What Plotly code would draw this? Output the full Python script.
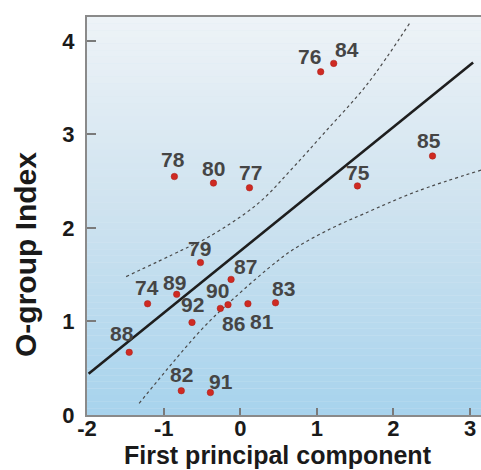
import plotly.graph_objects as go

# ---- data ----
labels = ["76", "84", "78", "80", "77", "75", "85", "79", "87", "89", "74",
          "90", "86", "81", "92", "83", "88", "82", "91"]
pc1 = [1.05, 1.22, -0.86, -0.35, 0.12, 1.53, 2.51, -0.52, -0.12, -0.83, -1.21,
       -0.26, -0.16, 0.10, -0.63, 0.46, -1.45, -0.77, -0.39]
ogroup = [3.67, 3.76, 2.55, 2.48, 2.43, 2.45, 2.77, 1.63, 1.45, 1.29, 1.19,
          1.14, 1.18, 1.19, 0.99, 1.20, 0.67, 0.26, 0.24]

fit_x = [-1.98, 3.04]
fit_y = [0.44, 3.77]

upper_x = [-1.49, -0.77, -0.42, 0.23, 0.66, 1.09, 1.66, 2.22]
upper_y = [1.48, 1.76, 1.90, 2.26, 2.62, 3.01, 3.54, 4.20]

lower_x = [-1.32, -0.51, -0.08, 0.49, 0.75, 1.20, 1.61, 2.30, 3.15]
lower_y = [0.125, 0.91, 1.25, 1.65, 1.80, 2.00, 2.15, 2.39, 2.62]

x_ticks = [-2, -1, 0, 1, 2, 3]
y_ticks = [0, 1, 2, 3, 4]

# ---- label offsets (pixels) ----
label_offsets = {
    "76": (-11, 15), "84": (13, 14), "78": (-1, 17), "80": (0, 15),
    "77": (1, 15), "75": (1, 13), "85": (-4, 15), "79": (-1, 14),
    "87": (14, 13), "89": (-2, 12), "74": (-1, 16), "90": (-3, 18),
    "86": (5, -19), "81": (14, -18), "92": (0, 18), "83": (8, 14),
    "88": (-7, 19), "82": (0, 16), "91": (11, 11),
}

FONT = "Liberation Sans, Arial, sans-serif"

fig = go.Figure()

band_style = dict(color="#4a4a4a", width=1.2, dash="dot", shape="spline")
fig.add_trace(go.Scatter(x=upper_x, y=upper_y, mode="lines", line=band_style,
                         hoverinfo="skip", showlegend=False))
fig.add_trace(go.Scatter(x=lower_x, y=lower_y, mode="lines", line=band_style,
                         hoverinfo="skip", showlegend=False))
fig.add_trace(go.Scatter(x=fit_x, y=fit_y, mode="lines",
                         line=dict(color="#1e1e1e", width=2.6),
                         hoverinfo="skip", showlegend=False))
fig.add_trace(go.Scatter(x=pc1, y=ogroup, mode="markers",
                         marker=dict(color="#cf2a22", size=6.5,
                                     line=dict(color="#a61c16", width=0.5)),
                         text=labels, showlegend=False))

for lab, xv, yv in zip(labels, pc1, ogroup):
    dx, dy = label_offsets[lab]
    fig.add_annotation(x=xv, y=yv, text=lab, showarrow=False,
                       xshift=dx, yshift=dy,
                       font=dict(family=FONT, size=21, color="#454545",
                                 weight="bold"))

# ---- gradient background ----
def lerp(c1, c2, t):
    return tuple(round(a + (b - a) * t) for a, b in zip(c1, c2))

stops = [(0.0, (238, 243, 247)), (0.5, (205, 226, 239)), (1.0, (167, 211, 237))]
n = 60
for i in range(n):
    t = (i + 0.5) / n  # 0 at top
    for k in range(len(stops) - 1):
        if stops[k][0] <= t <= stops[k + 1][0]:
            tt = (t - stops[k][0]) / (stops[k + 1][0] - stops[k][0])
            col = lerp(stops[k][1], stops[k + 1][1], tt)
            break
    y1 = 1 - i / n
    y0 = 1 - (i + 1) / n
    fig.add_shape(type="rect", xref="x domain", yref="y domain",
                  x0=0, x1=1, y0=y0, y1=y1, layer="below",
                  line=dict(width=0), fillcolor="rgb(%d,%d,%d)" % col)

axis_font = dict(family=FONT, size=22, color="#1a1a1a", weight="bold")

fig.update_xaxes(range=[-2.001, 3.143], tickvals=x_ticks,
                 ticktext=[str(v) for v in x_ticks],
                 ticks="inside", ticklen=7, tickwidth=2, tickcolor="#7a7a7a",
                 showline=True, linecolor="#8a8a8a", linewidth=2, mirror=True,
                 showgrid=False, zeroline=False, tickfont=axis_font,
                 ticklabelstandoff=-7, automargin=False)
fig.update_yaxes(range=[0, 4.256], tickvals=y_ticks,
                 ticktext=[str(v) for v in y_ticks],
                 ticks="inside", ticklen=9, tickwidth=2, tickcolor="#7a7a7a",
                 showline=True, linecolor="#8a8a8a", linewidth=2,
                 showgrid=False, zeroline=False, tickfont=axis_font,
                 ticklabelstandoff=6, automargin=False)

fig.add_annotation(xref="paper", yref="paper", x=(277.5 - 87) / 394,
                   y=(415 - 455) / 398, text="First principal component",
                   showarrow=False, xanchor="center", yanchor="middle",
                   font=dict(family=FONT, size=25, color="#1a1a1a", weight="bold"))
fig.add_annotation(xref="paper", yref="paper", x=(25 - 87) / 394,
                   y=(415 - 255) / 398, text="O-group Index", textangle=-90,
                   showarrow=False, xanchor="center", yanchor="middle",
                   font=dict(family=FONT, size=30, color="#1a1a1a", weight="bold"))

fig.update_layout(width=481, height=470,
                  margin=dict(l=87, r=0, t=17, b=55),
                  plot_bgcolor="#dbe9f2", paper_bgcolor="white",
                  showlegend=False)

fig.write_html("out.html", config={"displayModeBar": False},
               post_script="document.body.style.margin='0';"
                           "document.body.style.overflow='hidden';")
